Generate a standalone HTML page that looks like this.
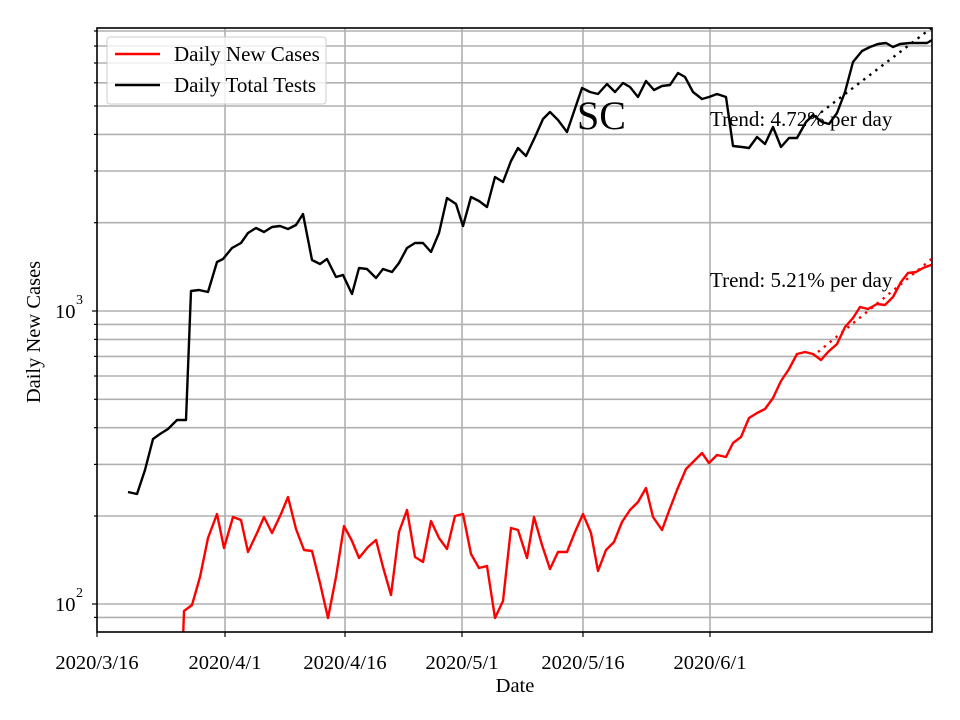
<!DOCTYPE html>
<html><head><meta charset="utf-8"><style>html,body{margin:0;padding:0;background:#fff}svg{display:block}text{font-family:"Liberation Serif",serif}</style></head><body>
<svg width="960" height="720" viewBox="0 0 960 720" xmlns="http://www.w3.org/2000/svg">
<rect width="960" height="720" fill="#fff"/>
<g stroke="#b0b0b0" stroke-width="1.6" fill="none">
<line x1="97" x2="932" y1="31" y2="31"/><line x1="97" x2="932" y1="46" y2="46"/><line x1="97" x2="932" y1="63" y2="63"/><line x1="97" x2="932" y1="82.8" y2="82.8"/><line x1="97" x2="932" y1="106" y2="106"/><line x1="97" x2="932" y1="134.4" y2="134.4"/><line x1="97" x2="932" y1="171" y2="171"/><line x1="97" x2="932" y1="222.7" y2="222.7"/><line x1="97" x2="932" y1="311" y2="311"/><line x1="97" x2="932" y1="324.4" y2="324.4"/><line x1="97" x2="932" y1="339.4" y2="339.4"/><line x1="97" x2="932" y1="356.4" y2="356.4"/><line x1="97" x2="932" y1="376" y2="376"/><line x1="97" x2="932" y1="399.3" y2="399.3"/><line x1="97" x2="932" y1="427.7" y2="427.7"/><line x1="97" x2="932" y1="464.4" y2="464.4"/><line x1="97" x2="932" y1="516" y2="516"/><line x1="97" x2="932" y1="604" y2="604"/><line x1="97" x2="932" y1="617.4" y2="617.4"/>
<line x1="225" x2="225" y1="28" y2="632"/><line x1="345" x2="345" y1="28" y2="632"/><line x1="462" x2="462" y1="28" y2="632"/><line x1="583" x2="583" y1="28" y2="632"/><line x1="710" x2="710" y1="28" y2="632"/>
</g>
<defs><clipPath id="c"><rect x="97" y="28" width="835" height="604"/></clipPath></defs>
<g clip-path="url(#c)" fill="none" stroke-width="2.4" stroke-linejoin="round">
<polyline stroke="#000" points="128,492 137,494 145,470 153,439 160,434 168,429 177,420 186,420 191,291 199,290 208,292 217,262 223,259 232,248 241,243 248,233 256,228 264,232 272,227 280,226 288,229 296,225 303,214 312,260 320,264 327,259 336,277 343,275 352,294 359,268 367,269 376,278 383,269 392,272 399,263 407,248 415,243 423,243 431,252 439,233 447,198 456,204 463,226 471,197 479,201 487,207 495,177 503,182 511,161 518,148 526,156 535,137 543,119 550,112 558,120 567,132 582,88 590,92 598,94 607,84 615,92 623,83 630,87 638,97 646,81 654,90 662,86 670,85 678,73 685,77 693,92 702,99 709,97 717,94 726,97 733,146 742,147 749,148 757,137 765,144 773,127 781,147 789,138 797,138 806,122 813,115 822,122 829,124 837,113 845,92 853,62 862,51 870,47 878,44 886,43 893,47 900,44 910,43 927,43 934,39"/>
<polyline stroke="#f00" points="183,640 184,611 192,605 200,577 208,538 217,514 224,548 233,517 241,520 248,552 257,533 264,517 272,533 281,514 288,497 296,529 304,550 312,551 320,583 328,618 336,577 344,526 352,541 359,558 368,547 376,540 383,567 391,595 399,532 407,510 415,557 423,562 431,521 439,538 447,549 455,516 463,514 471,554 479,568 487,566 495,618 503,601 511,528 518,530 527,558 534,517 542,545 550,569 558,552 567,552 575,532 583,514 591,533 598,571 606,550 614,542 622,522 630,510 638,502 646,488 653,517 662,530 669,511 677,490 686,469 693,462 702,453 709,463 717,455 726,457 733,443 741,437 749,418 757,413 765,409 773,398 781,381 789,369 797,354 805,352 813,354 821,360 828,352 837,344 845,327 853,318 860,307 868,309 877,304 885,305 893,297 901,282 908,273 916,272 923,268 931,265 934,264"/>
<line x1="815" y1="117" x2="934" y2="26" stroke="#000" stroke-dasharray="2.4,5.2"/>
<line x1="818" y1="352" x2="934" y2="257" stroke="#f00" stroke-dasharray="2.4,5.2"/>
</g>
<rect x="97" y="28" width="835" height="604" fill="none" stroke="#000" stroke-width="1.6"/>
<g stroke="#000" stroke-width="1.2">
<line x1="92" x2="97" y1="311" y2="311"/><line x1="92" x2="97" y1="604" y2="604"/>
<line x1="94" x2="97" y1="31" y2="31"/><line x1="94" x2="97" y1="46" y2="46"/><line x1="94" x2="97" y1="63" y2="63"/><line x1="94" x2="97" y1="82.8" y2="82.8"/><line x1="94" x2="97" y1="106" y2="106"/><line x1="94" x2="97" y1="134.4" y2="134.4"/><line x1="94" x2="97" y1="171" y2="171"/><line x1="94" x2="97" y1="222.7" y2="222.7"/><line x1="94" x2="97" y1="324.4" y2="324.4"/><line x1="94" x2="97" y1="339.4" y2="339.4"/><line x1="94" x2="97" y1="356.4" y2="356.4"/><line x1="94" x2="97" y1="376" y2="376"/><line x1="94" x2="97" y1="399.3" y2="399.3"/><line x1="94" x2="97" y1="427.7" y2="427.7"/><line x1="94" x2="97" y1="464.4" y2="464.4"/><line x1="94" x2="97" y1="516" y2="516"/><line x1="94" x2="97" y1="617.4" y2="617.4"/>
<line x1="97" x2="97" y1="632" y2="637"/><line x1="225" x2="225" y1="632" y2="637"/><line x1="345" x2="345" y1="632" y2="637"/><line x1="462" x2="462" y1="632" y2="637"/><line x1="583" x2="583" y1="632" y2="637"/><line x1="710" x2="710" y1="632" y2="637"/>
</g>
<g font-size="20.5" fill="#000">
<text x="55" y="318">10</text><text x="76" y="304" font-size="14">3</text>
<text x="55" y="611">10</text><text x="76" y="597" font-size="14">2</text>
<g text-anchor="middle">
<text x="97" y="669">2020/3/16</text><text x="225" y="669">2020/4/1</text><text x="345" y="669">2020/4/16</text><text x="462" y="669">2020/5/1</text><text x="583" y="669">2020/5/16</text><text x="710" y="669">2020/6/1</text>
<text x="515" y="692">Date</text>
<text transform="translate(40,332) rotate(-90)">Daily New Cases</text>
</g>
<text x="577" y="129" font-size="40">SC</text>
<text x="710" y="126" font-size="21">Trend: 4.72% per day</text>
<text x="710" y="287" font-size="21">Trend: 5.21% per day</text>
</g>
<rect x="107" y="37" width="219" height="67" rx="3" fill="#fff" fill-opacity="0.8" stroke="#ccc" stroke-width="1"/>
<line x1="115" x2="160" y1="54" y2="54" stroke="#f00" stroke-width="2.4"/>
<line x1="115" x2="160" y1="85" y2="85" stroke="#000" stroke-width="2.4"/>
<text x="174" y="61" font-size="21">Daily New Cases</text>
<text x="174" y="92" font-size="21">Daily Total Tests</text>
</svg>
</body></html>
